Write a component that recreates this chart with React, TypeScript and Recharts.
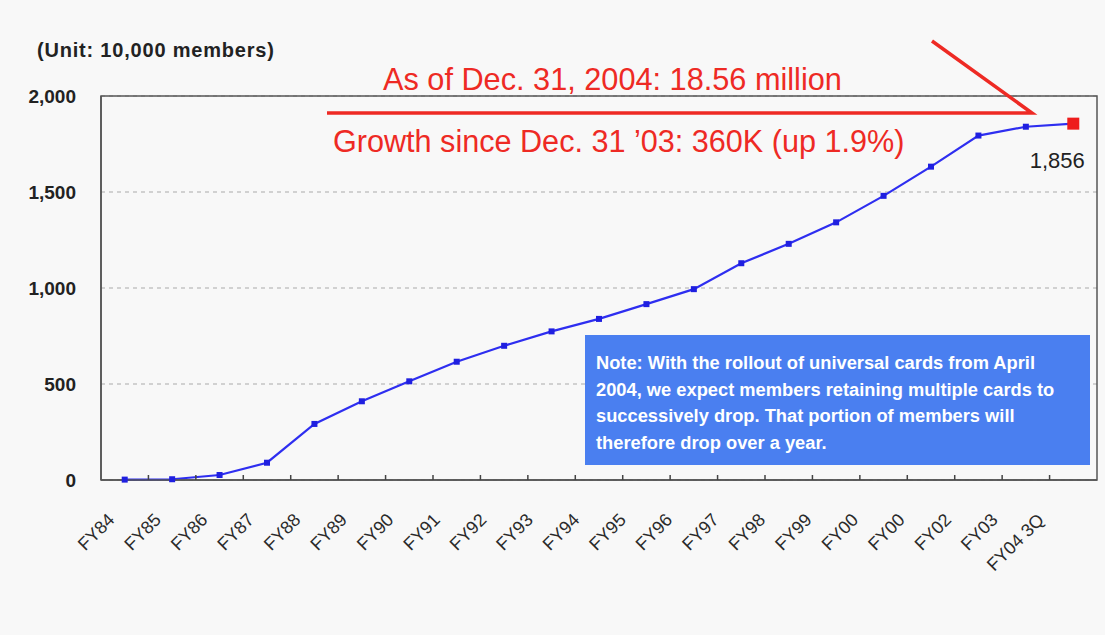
import React from 'react';
import { LineChart, Line, XAxis, YAxis, CartesianGrid, ReferenceArea } from 'recharts';

// ---- data ----
const categories = [
  'FY84', 'FY85', 'FY86', 'FY87', 'FY88', 'FY89', 'FY90', 'FY91', 'FY92', 'FY93', 'FY94',
  'FY95', 'FY96', 'FY97', 'FY98', 'FY99', 'FY00', 'FY00', 'FY02', 'FY03', 'FY04 3Q',
];
const members = [
  2, 4, 26, 90, 292, 410, 514, 616, 699, 774, 839,
  916, 994, 1129, 1230, 1342, 1480, 1632, 1794, 1840, 1856,
];
const yTicks = [0, 500, 1000, 1500, 2000];
const unitLabel = '(Unit: 10,000 members)';
const headline = 'As of Dec. 31, 2004: 18.56 million';
const growthLine = 'Growth since Dec. 31 \u201903: 360K (up 1.9%)';
const lastValueLabel = '1,856';
const noteLines = [
  'Note: With the rollout of universal cards from April',
  '2004, we expect members retaining multiple cards to',
  'successively drop. That portion of members will',
  'therefore drop over a year.',
];

const data = categories.map((c, i) => ({ idx: i, category: c, members: members[i] }));
const xTicks = categories.map((_, i) => i);

const FONT = '"Liberation Sans", Arial, Helvetica, sans-serif';
const W = 1105;
const H = 635;

const fmt = (v: number) => v.toLocaleString('en-US');

const XTick = (props: any) => {
  const { x, y, payload, index, width } = props;
  const plotW = typeof width === 'number' && width > 0 ? width : 996;
  const half = plotW / categories.length / 2;
  const tx = x - 9 - 0.95 * index;
  const ty = y + 41;
  return (
    <g>
      {index > 0 && (
        <line x1={x - half} x2={x - half} y1={y} y2={y - 5} stroke="#444" strokeWidth={1.5} />
      )}
      <text
        x={tx}
        y={ty}
        transform={`rotate(-45 ${tx} ${ty})`}
        textAnchor="end"
        fontSize={18}
        fontFamily={FONT}
        fill="#2a2a2a"
      >
        {categories[payload.value]}
      </text>
    </g>
  );
};

const Dot = (props: any) => {
  const { cx, cy, index } = props;
  if (cx == null || cy == null) return null;
  if (index === members.length - 1) {
    return (
      <g key={`d${index}`}>
        <rect x={cx - 6} y={cy - 6} width={12} height={12} fill="#ee1c1c" />
        <text x={cx - 16} y={cy + 44} textAnchor="middle" fontSize={22} fontFamily={FONT} fill="#222">
          {lastValueLabel}
        </text>
      </g>
    );
  }
  return <rect key={`d${index}`} x={cx - 3} y={cy - 3} width={6} height={6} fill="#1f1fe0" />;
};

export default function App() {
  return (
    <div
      style={{
        position: 'absolute',
        left: 0,
        top: 0,
        width: W,
        height: H,
        background: '#f8f8f8',
        fontFamily: FONT,
      }}
    >
      <LineChart
        width={W}
        height={H}
        data={data}
        margin={{ top: 96, right: 8, bottom: 95, left: 41 }}
      >
        <CartesianGrid vertical={false} stroke="#aaa" strokeDasharray="4 4" />
        <ReferenceArea y1={0} y2={2000} fill="none" stroke="#555" strokeWidth={1.5} />
        <XAxis
          dataKey="idx"
          type="number"
          domain={[-0.5, categories.length - 0.5]}
          ticks={xTicks}
          interval={0}
          height={60}
          tickSize={0}
          tickMargin={0}
          tick={<XTick />}
          axisLine={{ stroke: '#555', strokeWidth: 1.5 }}
          tickLine={false}
        />
        <YAxis
          domain={[0, 2000]}
          ticks={yTicks}
          width={60}
          tickSize={0}
          tickMargin={25}
          tickLine={false}
          tickFormatter={fmt}
          axisLine={{ stroke: '#555', strokeWidth: 1.5 }}
          tick={{ fontSize: 19, fontWeight: 700, fill: '#222', fontFamily: FONT }}
        />
        <Line
          type="linear"
          dataKey="members"
          stroke="#2e2ef0"
          strokeWidth={2.2}
          dot={Dot}
          activeDot={false}
          isAnimationActive={false}
        />
      </LineChart>
      <svg
        width={W}
        height={H}
        style={{ position: 'absolute', left: 0, top: 0, pointerEvents: 'none' }}
      >
        <text x={37} y={57} fontSize={20} fontWeight={700} fontFamily={FONT} fill="#222" letterSpacing={0.8}>
          {unitLabel}
        </text>
        <text x={383} y={90} fontSize={30.7} fontFamily={FONT} fill="#ee2a24">
          {headline}
        </text>
        <text x={333} y={152} fontSize={30.6} fontFamily={FONT} fill="#ee2a24">
          {growthLine}
        </text>
        <polyline
          points="327,113 1032,113 932,41"
          fill="none"
          stroke="#ee2a24"
          strokeWidth={3.5}
          strokeLinejoin="miter"
        />
        <rect x={585} y={335} width={505} height={130} fill="#4a7ff0" />
        {noteLines.map((l, i) => (
          <text
            key={i}
            x={596}
            y={369 + i * 26.5}
            fontSize={18.3}
            fontWeight={700}
            fontFamily={FONT}
            fill="#ffffff"
          >
            {l}
          </text>
        ))}
      </svg>
    </div>
  );
}
